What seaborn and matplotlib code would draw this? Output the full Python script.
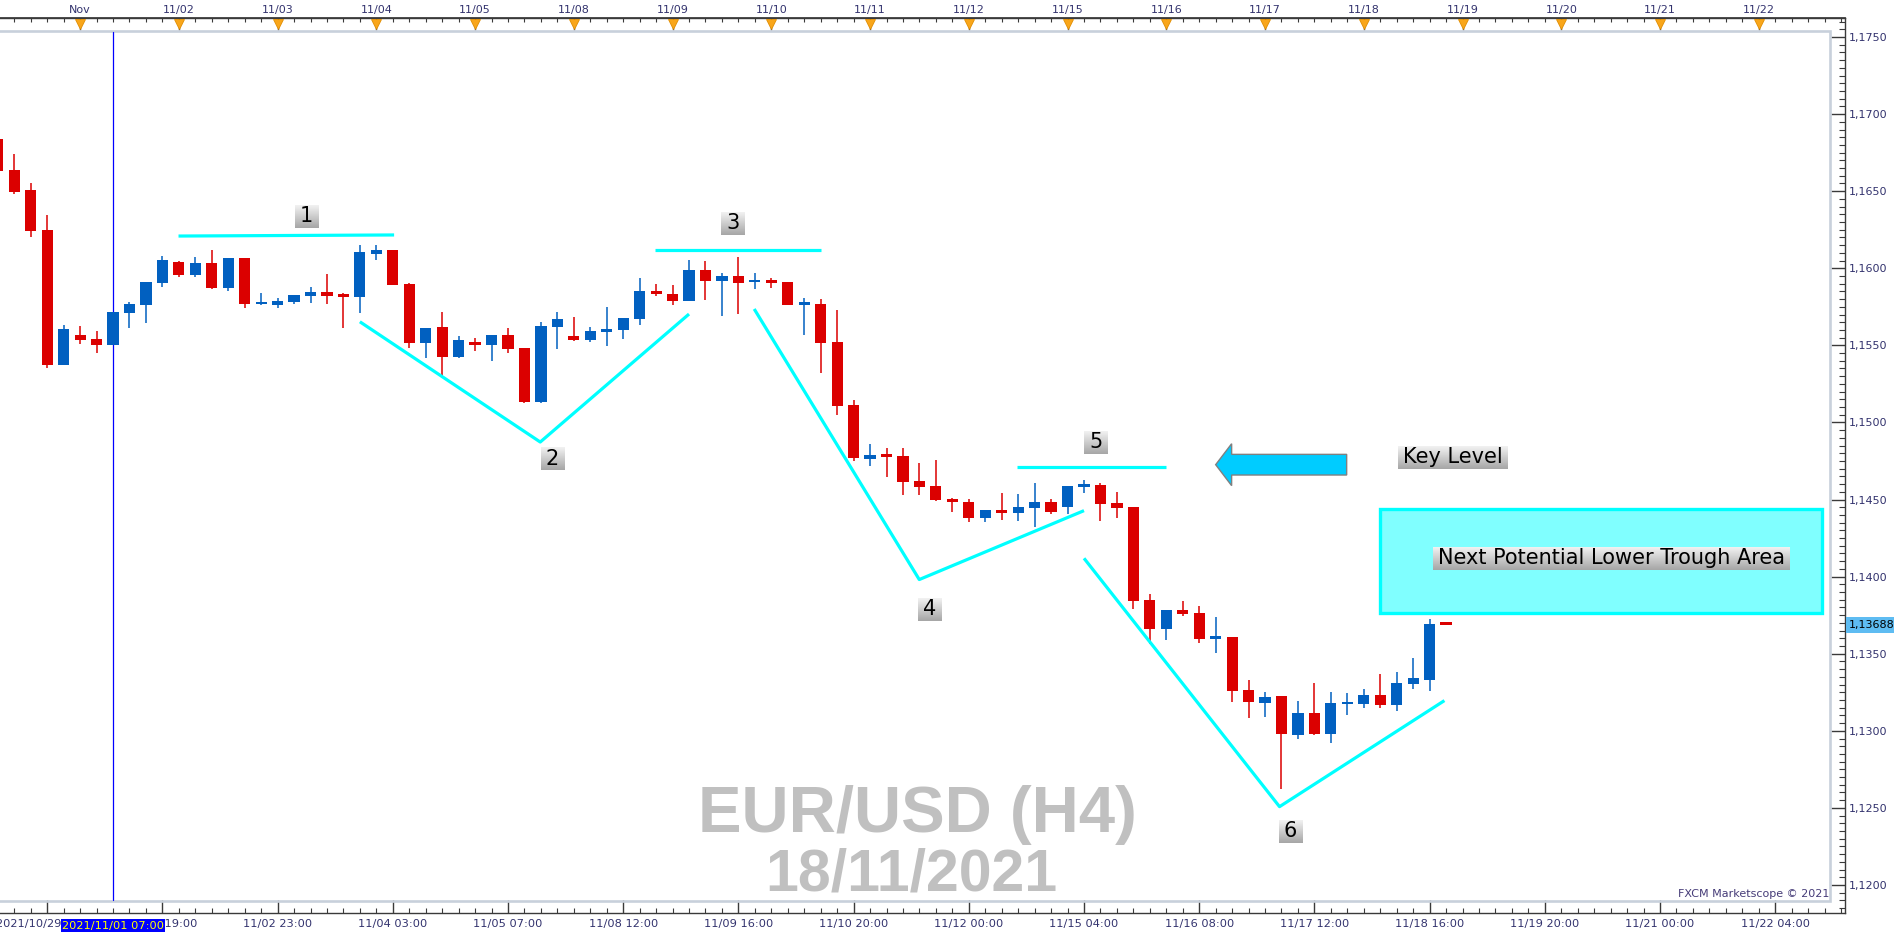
import numpy as np
import pandas as pd
import seaborn as sns
import matplotlib.pyplot as plt
import matplotlib.transforms as mtransforms
from matplotlib.patches import Rectangle, FancyArrow
from matplotlib.colors import LinearSegmentedColormap
from matplotlib.ticker import FixedLocator, FuncFormatter, MultipleLocator

# ---- EUR/USD H4 candles, bar 0 = first bar of 1 Nov 2021 ----
first_bar = -5
opens = [1.16839, 1.16638, 1.16508, 1.16249, 1.15373, 1.15568, 1.15542, 1.15503, 1.15710, 1.15762,
         1.15905, 1.16041, 1.15957, 1.16035, 1.15872, 1.16067, 1.15769, 1.15762, 1.15782, 1.15820,
         1.15846, 1.15827, 1.15814, 1.16093, 1.16119, 1.15898, 1.15516, 1.15619, 1.15425, 1.15522,
         1.15503, 1.15568, 1.15483, 1.15133, 1.15619, 1.15561, 1.15535, 1.15587, 1.15600, 1.15671,
         1.15853, 1.15833, 1.15788, 1.15989, 1.15920, 1.15950, 1.15909, 1.15913, 1.15911, 1.15764,
         1.15768, 1.15522, 1.15113, 1.14765, 1.14787, 1.14783, 1.14620, 1.14588, 1.14504, 1.14484,
         1.14383, 1.14432, 1.14415, 1.14447, 1.14484, 1.14454, 1.14584, 1.14594, 1.14478, 1.14451,
         1.13848, 1.13662, 1.13783, 1.13764, 1.13597, 1.13608, 1.13264, 1.13182, 1.13225, 1.12975,
         1.13115, 1.12981, 1.13175, 1.13175, 1.13232, 1.13169, 1.13303, 1.13331, 1.13693]
highs = [1.16839, 1.16741, 1.16553, 1.16346, 1.15632, 1.15626, 1.15596, 1.15717, 1.15784, 1.15911,
         1.16082, 1.16050, 1.16076, 1.16121, 1.16067, 1.16067, 1.15840, 1.15805, 1.15827, 1.15879,
         1.15963, 1.15842, 1.16151, 1.16151, 1.16119, 1.15905, 1.15613, 1.15717, 1.15561, 1.15548,
         1.15568, 1.15613, 1.15483, 1.15652, 1.15717, 1.15684, 1.15619, 1.15749, 1.15678, 1.15937,
         1.15898, 1.15892, 1.16054, 1.16047, 1.15972, 1.16073, 1.15970, 1.15937, 1.15911, 1.15807,
         1.15801, 1.15730, 1.15146, 1.14860, 1.14834, 1.14834, 1.14739, 1.14757, 1.14508, 1.14502,
         1.14432, 1.14543, 1.14536, 1.14607, 1.14504, 1.14588, 1.14627, 1.14607, 1.14549, 1.14451,
         1.13887, 1.13783, 1.13842, 1.13809, 1.13738, 1.13608, 1.13329, 1.13251, 1.13225, 1.13195,
         1.13312, 1.13253, 1.13247, 1.13273, 1.13370, 1.13383, 1.13472, 1.13725, 1.13693]
lows = [1.16620, 1.16482, 1.16205, 1.15351, 1.15373, 1.15509, 1.15453, 1.15503, 1.15611, 1.15643,
        1.15877, 1.15944, 1.15944, 1.15864, 1.15853, 1.15743, 1.15762, 1.15743, 1.15769, 1.15775,
        1.15769, 1.15613, 1.15710, 1.16054, 1.15892, 1.15483, 1.15418, 1.15295, 1.15418, 1.15464,
        1.15399, 1.15451, 1.15127, 1.15127, 1.15477, 1.15529, 1.15522, 1.15496, 1.15542, 1.15632,
        1.15820, 1.15762, 1.15788, 1.15794, 1.15693, 1.15706, 1.15868, 1.15874, 1.15764, 1.15570,
        1.15323, 1.15051, 1.14752, 1.14720, 1.14644, 1.14532, 1.14530, 1.14491, 1.14421, 1.14357,
        1.14357, 1.14370, 1.14363, 1.14324, 1.14409, 1.14404, 1.14543, 1.14363, 1.14383, 1.13792,
        1.13563, 1.13589, 1.13744, 1.13569, 1.13507, 1.13189, 1.13085, 1.13091, 1.12624, 1.12949,
        1.12975, 1.12923, 1.13104, 1.13150, 1.13150, 1.13130, 1.13273, 1.13260, 1.13688]
closes = [1.16633, 1.16497, 1.16244, 1.15373, 1.15606, 1.15535, 1.15503, 1.15717, 1.15771, 1.15911,
          1.16054, 1.15957, 1.16035, 1.15872, 1.16067, 1.15769, 1.15782, 1.15788, 1.15827, 1.15846,
          1.15820, 1.15816, 1.16106, 1.16119, 1.15892, 1.15516, 1.15613, 1.15425, 1.15535, 1.15503,
          1.15568, 1.15477, 1.15133, 1.15626, 1.15671, 1.15535, 1.15593, 1.15606, 1.15678, 1.15853,
          1.15833, 1.15788, 1.15989, 1.15920, 1.15950, 1.15907, 1.15918, 1.15907, 1.15764, 1.15771,
          1.15518, 1.15109, 1.14772, 1.14787, 1.14778, 1.14616, 1.14584, 1.14497, 1.14486, 1.14383,
          1.14432, 1.14415, 1.14452, 1.14484, 1.14422, 1.14588, 1.14594, 1.14473, 1.14447, 1.13844,
          1.13662, 1.13783, 1.13757, 1.13597, 1.13615, 1.13260, 1.13189, 1.13219, 1.12981, 1.13115,
          1.12981, 1.13180, 1.13186, 1.13232, 1.13169, 1.13310, 1.13342, 1.13695, 1.13688]

# ---- axis labels ----
day_pos = [0, 6, 12, 18, 24, 30, 36, 42, 48, 54, 60, 66, 72, 78, 84, 90, 96, 102]
day_labels = ['Nov', '11/02', '11/03', '11/04', '11/05', '11/08', '11/09', '11/10', '11/11',
              '11/12', '11/15', '11/16', '11/17', '11/18', '11/19', '11/20', '11/21', '11/22']
time_pos = [-2, 5, 12, 19, 26, 33, 40, 47, 54, 61, 68, 75, 82, 89, 96, 103]
time_labels = ['2021/10/29 15:00', '11/01 19:00', '11/02 23:00', '11/04 03:00', '11/05 07:00',
               '11/08 12:00', '11/09 16:00', '11/10 20:00', '11/12 00:00', '11/15 04:00',
               '11/16 08:00', '11/17 12:00', '11/18 16:00', '11/19 20:00', '11/21 00:00',
               '11/22 04:00']
cursor_bar = 2
cursor_label = '2021/11/01 07:00'

# ---- drawn analysis (bar index, price) ----
trend_lines = [
    ([5.98, 19.08], [1.16209, 1.16216]),
    ([17.0, 27.96, 37.0], [1.15653, 1.14873, 1.15703]),
    ([34.96, 45.03], [1.16117, 1.16117]),
    ([40.96, 50.99, 61.0], [1.15736, 1.13981, 1.14428]),
    ([56.93, 66.0], [1.14709, 1.14709]),
    ([61.0, 72.88, 82.9], [1.14119, 1.12508, 1.13196]),
]
note_text = ['1', '2', '3', '4', '5', '6', 'Key Level', 'Next Potential Lower Trough Area']
note_x = [13.74, 28.69, 39.67, 51.62, 61.70, 73.53, 83.39, 93.05]
note_y = [1.16336, 1.14764, 1.16292, 1.13788, 1.14871, 1.12348, 1.14773, 1.14118]
zone_x = [78.98, 105.82]
zone_y = [1.13766, 1.14437]
arrow_x = [76.96, 69.0]
arrow_y = 1.14726

RED = '#DB0000'
BLUE = '#0160C0'
AXC = '#3A3A3A'
LBL = '#33336E'

sns.set_theme(style='white')
plt.rcParams['font.family'] = ['DejaVu Sans']

W, H = 1903, 940
fig = plt.figure(figsize=(W / 100, H / 100), dpi=100, facecolor='white')
ax = fig.add_axes([0, 27 / H, 1845 / W, 895 / H])
ax.set_facecolor('white')
XLIM = (-4.867, 107.24)
YLIM = (1.118183, 1.176232)

trans_xd = mtransforms.blended_transform_factory(ax.transData, ax.transAxes)
trans_yd = mtransforms.blended_transform_factory(ax.transAxes, ax.transData)

# chart frame
ax.add_patch(Rectangle((-0.01, 0.01341), 1.0016, 0.97262, transform=ax.transAxes,
                       fill=False, ec='#C8D0DB', lw=1.9, zorder=1.2))

# candles
df = pd.DataFrame({'bar': np.arange(first_bar, first_bar + len(opens)),
                   'open': opens, 'high': highs, 'low': lows, 'close': closes})
cols = np.where(df['close'] >= df['open'], BLUE, RED)
body_lo = df[['open', 'close']].min(axis=1)
body_h = (df['close'] - df['open']).abs().clip(lower=0.00015)
ax.vlines(df['bar'], df['low'], df['high'], colors=cols, lw=1.1, zorder=3)
ax.bar(df['bar'], body_h, bottom=body_lo, width=0.68, color=cols, lw=0, zorder=4)

# cursor line
ax.axvline(cursor_bar, ymin=0.0148, ymax=0.9845, color='#0000FF', lw=0.9, zorder=2)

# cyan trend lines
for xs, ys in trend_lines:
    sns.lineplot(x=xs, y=ys, sort=False, estimator=None, color='#00FFFF', lw=2.3,
                 ax=ax, zorder=5, solid_capstyle='butt')

# target zone and arrow
ax.add_patch(Rectangle((zone_x[0], zone_y[0]), zone_x[1] - zone_x[0], zone_y[1] - zone_y[0],
                       fc='#80FFFF', ec='#00FFFF', lw=2.4, zorder=6))
ax.add_patch(FancyArrow(arrow_x[0], arrow_y, arrow_x[1] - arrow_x[0], 0, width=0.00134,
                        head_width=0.00272, head_length=0.97, length_includes_head=True,
                        fc='#00CCFF', ec='#808080', lw=1, zorder=6))

# watermark
ax.text(50.85, 1.12346, 'EUR/USD (H4)', ha='center', va='baseline', fontsize=47,
        fontweight='bold', family='Liberation Sans', color='#C0C0C0', zorder=1.5)
ax.text(50.49, 1.11967, '18/11/2021', ha='center', va='baseline', fontsize=42.5,
        fontweight='bold', family='Liberation Sans', color='#C0C0C0', zorder=1.5)
ax.text(0.9913, 0.0179, 'FXCM Marketscope \u00a9 2021', transform=ax.transAxes, ha='right',
        va='baseline', fontsize=8, color='#463C78', zorder=5)

# notes
notes = []
for s, x, y in zip(note_text, note_x, note_y):
    notes.append(ax.text(x, y, s, ha='center', va='center', fontsize=15, color='black', zorder=9))

# spines / axes
ax.spines['left'].set_visible(False)
for side in ['top', 'bottom', 'right']:
    ax.spines[side].set_visible(True)
    ax.spines[side].set_color(AXC)
    ax.spines[side].set_linewidth(1)

ax.yaxis.tick_right()
ax.yaxis.set_major_locator(MultipleLocator(0.005))
ax.yaxis.set_minor_locator(MultipleLocator(0.0005))
ax.yaxis.set_major_formatter(FuncFormatter(lambda v, p: f'{v:.4f}'.replace('.', ',')))
ax.tick_params(axis='y', which='major', left=False, right=True, labelleft=False, labelright=True,
               direction='in', length=10, width=1, color=AXC, labelsize=8, labelcolor=LBL, pad=3)
ax.tick_params(axis='y', which='minor', left=False, right=True, direction='in', length=4.3,
               width=0.8, color=AXC)

ax.set_xticks(time_pos, labels=time_labels)
ax.xaxis.set_minor_locator(FixedLocator(np.arange(-4, 108)))
ax.tick_params(axis='x', which='major', bottom=True, top=False, direction='in', length=9.4,
               width=1, color=AXC, labelsize=8.2, labelcolor=LBL, pad=4.5)
ax.tick_params(axis='x', which='minor', bottom=True, top=False, direction='in', length=3.6,
               width=0.8, color=AXC)
ax.grid(False)

secax = ax.secondary_xaxis('top')
secax.set_xticks(day_pos, labels=day_labels)
secax.xaxis.set_minor_locator(FixedLocator(np.arange(-4, 108)))
secax.tick_params(axis='x', which='major', top=True, direction='in', length=8.5, width=1,
                  color=AXC, labelsize=8, labelcolor=LBL, pad=2.5)
secax.tick_params(axis='x', which='minor', top=True, direction='in', length=3, width=0.8, color=AXC)
secax.spines['top'].set_color(AXC)

ax.plot(day_pos, np.full(len(day_pos), 0.99385), transform=trans_xd, ls='none', marker='v',
        ms=7, mfc='#F9A61A', mec='#E08C00', mew=0.6, clip_on=False, zorder=7)

# highlighted cursor time label
ax.text(cursor_bar, -0.0140, cursor_label, transform=trans_xd, ha='center', va='center',
        fontsize=8.2, color='#FFFF00', clip_on=False, zorder=10,
        bbox=dict(boxstyle='square,pad=0.12', fc='#0000FF', ec='none'))

# current price tag
last = closes[-1]
ax.add_patch(Rectangle((1.0004, last - 0.00052), 0.0262, 0.00104, transform=trans_yd,
                       fc='#5EBCF2', ec='none', clip_on=False, zorder=8))
ax.text(1.0022, last, f'{last:.5f}'.replace('.', ','), transform=trans_yd, ha='left',
        va='center', fontsize=8, color='black', clip_on=False, zorder=9)

ax.set_xlim(*XLIM)
ax.set_ylim(*YLIM)

# gradient boxes behind the notes
fig.canvas.draw()
box_cmap = LinearSegmentedColormap.from_list('box', ['#F2F2F2', '#A6A6A6'])
grad = np.linspace(0, 1, 64).reshape(-1, 1)
inv = ax.transData.inverted()
for t in notes:
    bb = t.get_window_extent()
    (x0, y0), (x1, y1) = inv.transform([[bb.x0 - 5, bb.y0 - 1.5], [bb.x1 + 5, bb.y1 + 1.5]])
    ax.imshow(grad, cmap=box_cmap, extent=[x0, x1, y0, y1], aspect='auto', origin='upper',
              interpolation='bilinear', zorder=8.5)
ax.set_xlim(*XLIM)
ax.set_ylim(*YLIM)

fig.savefig('out.png', dpi=100)
